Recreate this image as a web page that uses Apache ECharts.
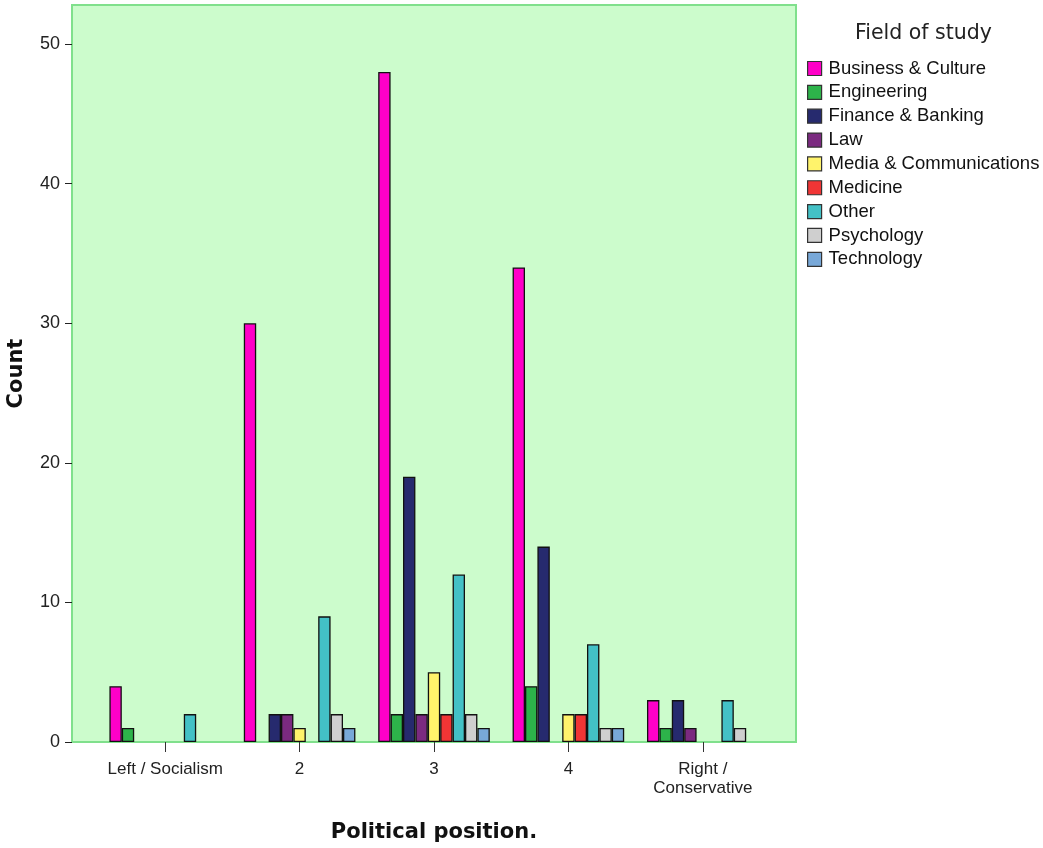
<!DOCTYPE html>
<html><head><meta charset="utf-8">
<script src="https://cdn.jsdelivr.net/npm/echarts@6/dist/echarts.min.js"></script>
<style>html,body{margin:0;padding:0;background:#fff}#c{width:1043px;height:848px}</style>
</head><body><div id="c"></div>
<script>
const categories = ['Left / Socialism', '2', '3', '4', 'Right /\nConservative'];
const seriesNames = ['Business & Culture','Engineering','Finance & Banking','Law','Media & Communications','Medicine','Other','Psychology','Technology'];
const businessCulture = [4, 30, 48, 34, 3];
const engineering     = [1, 0, 2, 4, 1];
const financeBanking  = [0, 2, 19, 14, 3];
const law             = [0, 2, 2, 0, 1];
const mediaComm       = [0, 1, 5, 2, 0];
const medicine        = [0, 0, 2, 2, 0];
const other           = [2, 9, 12, 7, 3];
const psychology      = [0, 2, 2, 1, 1];
const technology      = [0, 1, 1, 1, 0];
const allValues = [businessCulture, engineering, financeBanking, law, mediaComm, medicine, other, psychology, technology];
const colors = ['#ff00c8','#2db34a','#262a6e','#7b2a80','#fff36b','#f03535','#43c1c6','#cfcfcf','#78a8d8'];
const yTicks = [0, 10, 20, 30, 40, 50];

const FONT = 'Liberation Sans, Arial, sans-serif';
const BOLD = 'DejaVu Sans, sans-serif';
const chart = echarts.init(document.getElementById('c'));
const series = seriesNames.map((n, i) => ({
  name: n, type: 'bar', xAxisIndex: 0, yAxisIndex: 0,
  barWidth: 12.4, barGap: '0%',
  itemStyle: { color: colors[i], borderColor: '#111', borderWidth: 1.3 },
  data: allValues[i].map(v => v === 0 ? null : v)
}));
chart.setOption({
  animation: false,
  textStyle: { fontFamily: FONT },
  title: { text: 'Field of study', left: 855, top: 23, padding: 0,
    textStyle: { fontSize: 20.5, fontWeight: 'normal', color: '#222', fontFamily: BOLD } },
  legend: {
    orient: 'vertical', left: 807, top: 59, padding: 0, itemWidth: 14, itemHeight: 14, itemGap: 4.85,
    icon: 'rect', data: seriesNames,
    textStyle: { fontSize: 18.5, color: '#111', fontFamily: FONT, padding: [0,0,0,2] },
    itemStyle: { borderColor: '#333', borderWidth: 1.2 }
  },
  grid: [
    { left: 98, right: 273, top: 5, bottom: 106, outerBoundsMode: 'none' },
    { left: 72, right: 247, top: 5, bottom: 106, outerBoundsMode: 'none', show: true, backgroundColor: '#ccfccc', borderColor: '#80e08c', borderWidth: 2, z: 0 }
  ],
  xAxis: [
    { type: 'category', gridIndex: 0, data: categories,
      axisLine: { show: false },
      axisTick: { show: true, interval: 0, alignWithLabel: true, length: 10, lineStyle: { color: '#333' } },
      axisLabel: { interval: 0, fontSize: 17, color: '#222', margin: 18, lineHeight: 19, fontFamily: FONT },
      name: 'Political position.', nameLocation: 'middle', nameGap: 80,
      nameTextStyle: { fontSize: 21, fontWeight: 'bold', color: '#111', fontFamily: BOLD } },
    { type: 'value', gridIndex: 1, show: false, min: 0, max: 1 }
  ],
  yAxis: [
    { type: 'value', gridIndex: 0, min: 0, max: 52.8, interval: 10, show: false },
    { type: 'value', gridIndex: 1, min: 0, max: 52.8, interval: 10,
      axisLine: { show: false },
      axisTick: { show: true, length: 7, lineStyle: { color: '#222' } },
      splitLine: { show: false },
      axisLabel: { fontSize: 18, color: '#222', margin: 12, showMaxLabel: false, fontFamily: FONT,
        formatter: v => yTicks.includes(v) ? String(v) : '' },
      name: 'Count', nameLocation: 'middle', nameGap: 45, nameRotate: 90,
      nameTextStyle: { fontSize: 21, fontWeight: 'bold', color: '#111', fontFamily: BOLD } }
  ],
  series: series
});
</script></body></html>
